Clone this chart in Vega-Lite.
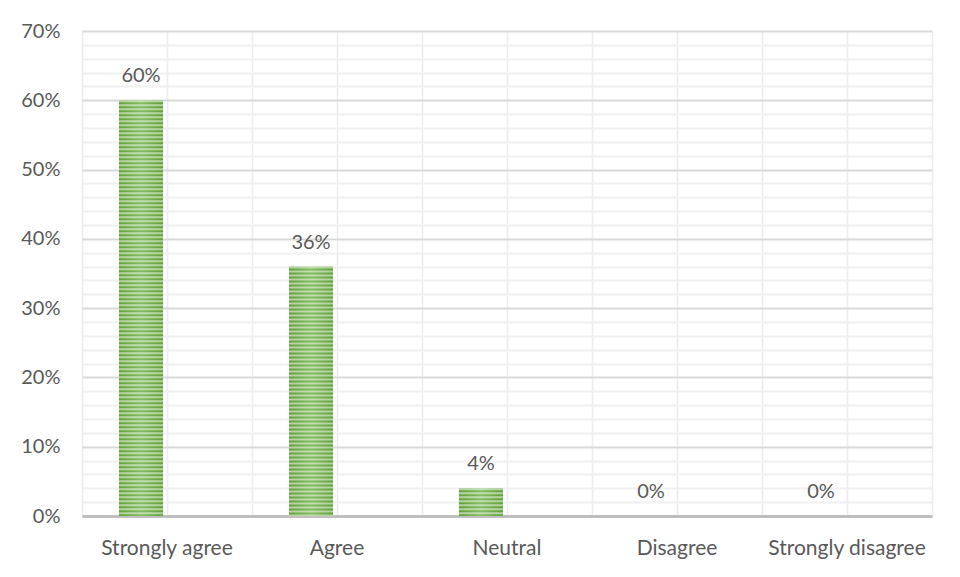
{
  "$schema": "https://vega.github.io/schema/vega-lite/v6.json",
  "width": 850,
  "height": 485,
  "autosize": {"type": "none"},
  "padding": {"left": 82, "top": 31, "right": 28, "bottom": 61},
  "background": "#ffffff",
  "config": {
    "view": {"stroke": null},
    "font": "Lato",
    "axis": {"labelFont": "Lato", "labelColor": "#595959", "labelFontSize": 20, "labelAngle": 0, "ticks": false, "domain": false, "title": null}
  },
  "data": {
    "values": [
      {"response": "Strongly agree", "share": 0.60},
      {"response": "Agree", "share": 0.36},
      {"response": "Neutral", "share": 0.04},
      {"response": "Disagree", "share": 0.00},
      {"response": "Strongly disagree", "share": 0.00}
    ]
  },
  "encoding": {
    "x": {
      "field": "response",
      "type": "nominal",
      "sort": null,
      "axis": null,
      "scale": {"paddingInner": 0, "paddingOuter": 0}
    },
    "y": {
      "field": "share",
      "type": "quantitative",
      "axis": null,
      "scale": {"domain": [0, 0.7], "nice": false, "zero": true}
    }
  },
  "layer": [
    {
      "mark": {"type": "bar", "opacity": 0},
      "encoding": {
        "x": {
          "field": "response", "type": "nominal", "sort": null,
          "axis": {"orient": "bottom", "labels": false, "grid": true, "gridColor": "#ececec", "gridWidth": 1.5, "tickBand": "center"}
        },
        "y": {
          "field": "share", "type": "quantitative",
          "axis": {"orient": "left", "labels": false, "grid": true, "gridColor": "#f0f0f0", "gridWidth": 2, "values": [0.02, 0.04, 0.06, 0.08, 0.12, 0.14, 0.16, 0.18, 0.22, 0.24, 0.26, 0.28, 0.32, 0.34, 0.36, 0.38, 0.42, 0.44, 0.46, 0.48, 0.52, 0.54, 0.56, 0.58, 0.62, 0.64, 0.66, 0.68]}
        }
      }
    },
    {
      "mark": {"type": "bar", "opacity": 0},
      "encoding": {
        "x": {
          "field": "response", "type": "nominal", "sort": null,
          "axis": {"orient": "bottom", "labels": false, "grid": true, "gridColor": "#ececec", "gridWidth": 1.5, "tickBand": "extent"}
        },
        "y": {
          "field": "share", "type": "quantitative",
          "axis": {"orient": "left", "format": ".0%", "values": [0, 0.1, 0.2, 0.3, 0.4, 0.5, 0.6, 0.7], "grid": true, "gridColor": "#d9d9d9", "gridWidth": 2, "labelPadding": 22}
        }
      }
    },
    {
      "mark": {
        "type": "bar",
        "width": 44,
        "xOffset": -26,
        "fill": {
          "gradient": "linear", "x1": 0, "y1": 0, "x2": 1, "y2": 0,
          "stops": [
            {"offset": 0, "color": "#62a13b"},
            {"offset": 0.5, "color": "#84be62"},
            {"offset": 1, "color": "#62a13b"}
          ]
        }
      },
      "encoding": {
        "x": {
          "field": "response", "type": "nominal", "sort": null,
          "axis": {"orient": "bottom", "grid": false, "labelPadding": 21, "labelFontSize": 21, "domain": true, "domainColor": "#bfbfbf", "domainWidth": 3}
        }
      }
    },
    {
      "mark": {"type": "rule", "xOffset": -26, "strokeWidth": 44, "strokeDash": [2, 2], "strokeCap": "butt", "color": "#ffffff", "opacity": 0.5},
      "encoding": {
        "y2": {"datum": 0}
      }
    },
    {
      "mark": {"type": "text", "xOffset": -26, "dy": -18, "baseline": "alphabetic", "font": "Lato", "fontSize": 20, "color": "#595959"},
      "encoding": {
        "text": {"field": "share", "type": "quantitative", "format": ".0%"}
      }
    }
  ],
  "resolve": {"axis": {"x": "independent", "y": "independent"}}
}
